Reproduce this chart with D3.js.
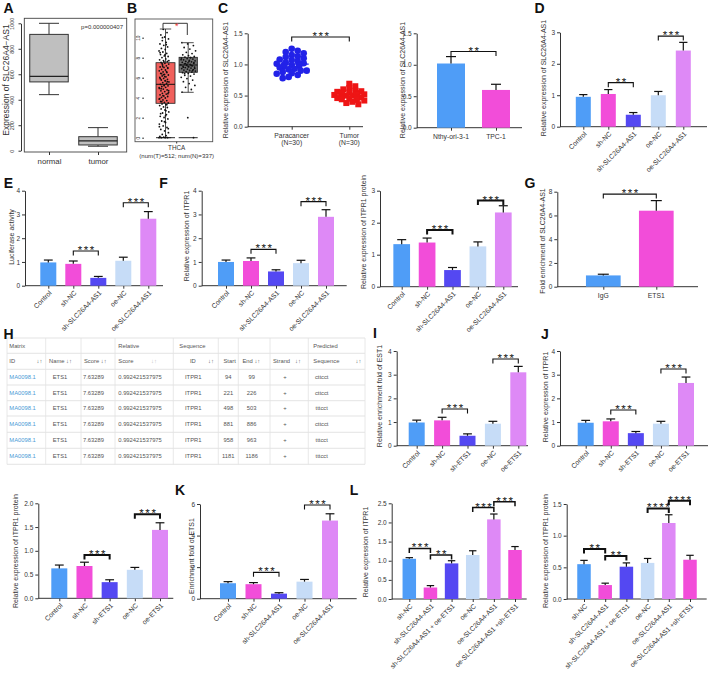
<!DOCTYPE html>
<html><head><meta charset="utf-8">
<script src="https://cdn.jsdelivr.net/npm/d3@7"></script>
<style>
body{margin:0;background:#fff}
svg{display:block}
text{font-family:"Liberation Sans",Arial,Helvetica,sans-serif}
</style>
</head><body>
<svg id="c" width="709" height="676"></svg>
<script>
// ---------------- DATA ----------------
// Panel A (boxplot)
const A_cats = ["normal", "tumor"];
const A_min = [440, 35];
const A_q1 = [540, 45];
const A_med = [584, 77];
const A_q3 = [913, 110];
const A_max = [1000, 181];
const A_ticks = [0, 200, 400, 600, 800, 1000];
const A_p = "p=0.000000407";

// Panel B (GEPIA boxplot)
const B_cats = ["T", "N"];
const B_min = [0, 4.54];
const B_q1 = [3.44, 6.54];
const B_med = [5.34, 7.27];
const B_q3 = [7.5, 8.04];
const B_max = [10.87, 9.5];
const B_ticks = [0, 2, 4, 6, 8, 10];
const B_tumorPts = [0,0,0,0,0.05,0.12,0.2,0.33,0.5,0.68,0.83,1.02,1.18,1.36,1.52,1.67,1.88,2.02,2.14,2.31,2.47,2.58,2.77,2.88,3.02,3.08,3.21,3.3,3.38,3.47,3.53,3.62,3.71,3.78,3.86,3.97,4.03,4.12,4.18,4.29,4.36,4.44,4.53,4.61,4.69,4.78,4.86,4.93,5.04,5.12,5.19,5.28,5.34,5.43,5.51,5.58,5.69,5.77,5.84,5.93,6.02,6.09,6.18,6.27,6.33,6.44,6.52,6.58,6.69,6.77,6.83,6.94,7.02,7.08,7.19,7.27,7.36,7.44,7.53,7.62,7.71,7.79,7.88,8.01,8.12,8.18,8.31,8.43,8.57,8.68,8.82,8.93,9.08,9.24,9.38,9.53,9.71,9.88,10.07,10.28,10.51,10.84,1.1,2.2,3.6,4.4,5.2,5.9,6.6,7.1,7.7,8.3,4.9,5.6,6.3,3.9,2.7,7.4,0.9,1.6,2.4,3.3,4.2,5.0,5.7,6.4,7.0,7.6,8.5,9.3,10.0,4.7,6.1];
const B_normalPts = [0,2.0,4.55,4.82,5.04,5.23,5.41,5.6,5.76,5.91,6.04,6.16,6.24,6.36,6.44,6.5,6.56,6.61,6.66,6.72,6.76,6.81,6.86,6.91,6.96,7.01,7.06,7.09,7.14,7.19,7.24,7.29,7.34,7.39,7.44,7.49,7.54,7.59,7.64,7.69,7.74,7.79,7.86,7.91,7.96,8.01,8.06,8.12,8.21,8.29,8.41,8.54,8.69,8.86,9.02,9.21,9.38,9.5,7.22,7.41,6.93,7.63,7.05,6.7,7.3,7.8,8.0,6.4,7.5,7.1];

// Panel C left (scatter)
const C_cats = ["Paracancer", "Tumor"];
const C_paracancer = [1.25,1.22,1.2,1.18,1.15,1.13,1.12,1.1,1.08,1.07,1.05,1.03,1.02,1.01,1.0,1.0,0.99,0.98,0.97,0.95,0.93,0.92,0.9,0.9,0.88,0.86,0.85,0.83,0.8,0.78];
const C_tumor = [0.69,0.65,0.62,0.6,0.58,0.57,0.56,0.55,0.55,0.54,0.53,0.53,0.52,0.52,0.51,0.51,0.5,0.5,0.49,0.48,0.47,0.47,0.46,0.45,0.44,0.43,0.42,0.4,0.38,0.36];

// Bar panels categories
const cats5AS = ["Control", "sh-NC", "sh-SLC26A4-AS1", "oe-NC", "oe-SLC26A4-AS1"];
const cats5ETS = ["Control", "sh-NC", "sh-ETS1", "oe-NC", "oe-ETS1"];
const catsL = ["sh-NC", "sh-SLC26A4-AS1", "sh-SLC26A4-AS1 + oe-ETS1", "oe-NC", "oe-SLC26A4-AS1", "oe-SLC26A4-AS1 +sh-ETS1"];
const catsCells = ["Nthy-ori-3-1", "TPC-1"];
const catsG = ["IgG", "ETS1"];

// values (mean) and SD
const C2_val = [1.02, 0.6];   const C2_sd = [0.11, 0.09];
const D_val = [0.95, 1.04, 0.38, 1.0, 2.42]; const D_sd = [0.07, 0.14, 0.07, 0.12, 0.26];
const E_val = [0.98, 0.92, 0.33, 1.05, 2.82]; const E_sd = [0.1, 0.12, 0.06, 0.15, 0.3];
const F1_val = [1.0, 1.04, 0.6, 0.95, 2.9]; const F1_sd = [0.08, 0.13, 0.07, 0.12, 0.3];
const F2_val = [1.33, 1.38, 0.52, 1.26, 2.32]; const F2_sd = [0.14, 0.14, 0.08, 0.14, 0.21];
const G_val = [0.95, 6.4]; const G_sd = [0.1, 0.85];
const I_val = [0.98, 1.07, 0.42, 0.93, 3.1]; const I_sd = [0.1, 0.13, 0.08, 0.1, 0.25];
const J_val = [0.97, 1.03, 0.53, 0.93, 2.65]; const J_sd = [0.1, 0.1, 0.07, 0.1, 0.25];
const J2_val = [0.63, 0.68, 0.34, 0.6, 1.44]; const J2_sd = [0.07, 0.08, 0.05, 0.05, 0.15];
const K_val = [0.98, 0.92, 0.32, 1.08, 4.95]; const K_sd = [0.1, 0.1, 0.06, 0.14, 0.43];
const L1_val = [1.05, 0.3, 0.93, 1.15, 2.08, 1.28]; const L1_sd = [0.03, 0.05, 0.07, 0.11, 0.14, 0.09];
const L2_val = [0.55, 0.22, 0.51, 0.57, 1.2, 0.62]; const L2_sd = [0.06, 0.03, 0.06, 0.07, 0.13, 0.07];

// significance brackets: [from index, to index, level, stars]
const C1_br = [[0, 1, 1.44, "***"]];
const C2_br = [[0, 1, 1.21, "**"]];
const D_br = [[1, 2, 1.40, "**"], [3, 4, 2.88, "***"]];
const E_br = [[1, 2, 1.46, "***"], [3, 4, 3.49, "***"]];
const F1_br = [[1, 2, 1.53, "***"], [3, 4, 3.54, "***"]];
const F2_br = [[1, 2, 1.77, "***"], [3, 4, 2.69, "***"]];
const G_br = [[0, 1, 7.8, "***"]];
const I_br = [[1, 2, 1.55, "***"], [3, 4, 3.66, "***"]];
const J_br = [[1, 2, 1.51, "***"], [3, 4, 3.24, "***"]];
const J2_br = [[1, 2, 0.91, "***"], [3, 4, 1.77, "***"]];
const K_br = [[1, 2, 1.67, "***"], [3, 4, 5.94, "***"]];
const L1_br = [[0, 1, 1.32, "***"], [1, 2, 1.15, "**"], [3, 4, 2.39, "***"], [4, 5, 2.54, "***"]];
const L2_br = [[0, 1, 0.79, "**"], [1, 2, 0.68, "**"], [3, 4, 1.43, "****"], [4, 5, 1.55, "****"]];

// Table H
const H_matrix = ["MA0098.1","MA0098.1","MA0098.1","MA0098.1","MA0098.1","MA0098.1"];
const H_name = ["ETS1","ETS1","ETS1","ETS1","ETS1","ETS1"];
const H_score = ["7.63289","7.63289","7.63289","7.63289","7.63289","7.63289"];
const H_rel = ["0.992421537975","0.992421537975","0.992421537975","0.992421537975","0.992421537975","0.992421537975"];
const H_seqId = ["ITPR1","ITPR1","ITPR1","ITPR1","ITPR1","ITPR1"];
const H_start = [94, 221, 498, 881, 958, 1181];
const H_end = [99, 226, 503, 886, 963, 1186];
const H_strand = ["+","+","+","+","+","+"];
const H_seq = ["cttcct","cttcct","tttcct","cttcct","tttcct","tttcct"];

// ---------------- STYLE ----------------
const BLUE = "#4f9df7", MAG = "#f24dd9", IND = "#5448f2", LB = "#c6dcf7", VIO = "#de89f6";
const col5 = [BLUE, MAG, IND, LB, VIO];
const colL = [BLUE, MAG, IND, LB, VIO, MAG];
const col2 = [BLUE, MAG];
const AX = "#333";

const svg = d3.select("#c");

function styleAxis(g, fs) {
  g.selectAll(".domain").attr("stroke", AX).attr("stroke-width", 1);
  g.selectAll(".tick line").attr("stroke", AX).attr("stroke-width", 1);
  g.selectAll(".tick text").attr("fill", "#333").style("font-size", (fs || 6.5) + "px")
    .style("font-family", '"Liberation Sans",Arial,sans-serif');
}
function yTitle(x, y, t, fs) {
  svg.append("text").attr("transform", `translate(${x},${y}) rotate(-90)`)
    .attr("text-anchor", "middle").attr("dominant-baseline", "central")
    .style("font-size", (fs || 7) + "px").attr("fill", "#333").text(t);
}
function letter(x, y, t) {
  svg.append("text").attr("x", x).attr("y", y).text(t)
    .style("font-size", "14px").style("font-weight", "bold").attr("fill", "#111")
    .attr("text-anchor", "middle");
}
function bracket(g, xa, xb, yy, stars, thick, tick) {
  const t = tick == null ? 4.5 : tick;
  g.append("path").attr("d", `M${xa},${yy + t}V${yy}H${xb}V${yy + t}`)
    .attr("fill", "none").attr("stroke", "#111").attr("stroke-width", thick || 1.1);
  g.append("text").attr("x", (xa + xb) / 2 + 1).attr("y", yy + 3).attr("text-anchor", "middle")
    .style("font-size", "11.5px").style("letter-spacing", "1.6px").attr("fill", "#111").text(stars);
}

function barPanel(p) {
  const g = svg.append("g");
  const y = d3.scaleLinear().domain([0, p.yMax]).range([p.y0, p.yTopPx]);
  const x = d3.scalePoint().domain(p.cats).range([p.x1, p.x2]);
  const ya = g.append("g").attr("transform", `translate(${p.axisX},0)`)
    .call(d3.axisLeft(y).tickValues(p.ticks).tickFormat(d3.format(p.fmt || "d")).tickSize(3).tickSizeOuter(0).tickPadding(2));
  styleAxis(ya);
  g.append("line").attr("x1", p.axisX).attr("x2", p.xEnd).attr("y1", p.y0).attr("y2", p.y0)
    .attr("stroke", AX).attr("stroke-width", 1);
  const xa = g.append("g").attr("transform", `translate(0,${p.y0})`)
    .call(d3.axisBottom(x).tickSize(3).tickFormat(""));
  xa.select(".domain").remove();
  styleAxis(xa);
  g.selectAll("rect.bar").data(p.vals).join("rect").attr("class", "bar")
    .attr("x", (d, i) => x(p.cats[i]) - p.bw / 2).attr("y", d => y(d))
    .attr("width", p.bw).attr("height", d => p.y0 - y(d))
    .attr("fill", (d, i) => p.colors[i]);
  const cw = p.cap || Math.min(p.bw * 0.55, 9);
  p.vals.forEach((v, i) => {
    const cx = x(p.cats[i]), top = y(v + p.sd[i]);
    g.append("line").attr("x1", cx).attr("x2", cx).attr("y1", y(v)).attr("y2", top)
      .attr("stroke", "#111").attr("stroke-width", 1.2);
    g.append("line").attr("x1", cx - cw / 2).attr("x2", cx + cw / 2).attr("y1", top).attr("y2", top)
      .attr("stroke", "#111").attr("stroke-width", 1.2);
  });
  p.cats.forEach(c => {
    if (p.rot === false) {
      g.append("text").attr("x", x(c)).attr("y", p.y0 + 11).attr("text-anchor", "middle")
        .style("font-size", "6.8px").attr("fill", "#333").text(c);
    } else {
      g.append("text").attr("transform", `translate(${x(c) + 2},${p.y0 + 6}) rotate(-45)`)
        .attr("text-anchor", "end").attr("dy", "0.35em")
        .style("font-size", "6.8px").attr("fill", "#333").text(c);
    }
  });
  p.br.forEach(b => bracket(g, x(p.cats[b[0]]), x(p.cats[b[1]]), y(b[2]), b[3], p.thick));
  yTitle(p.tx, p.ty, p.title);
}

// ---------------- PANEL A ----------------
(function () {
  const g = svg.append("g");
  const y = d3.scaleLinear().domain([0, 1000]).range([150.7, 23.3]);
  const x = d3.scalePoint().domain(A_cats).range([49, 98]);
  g.append("rect").attr("x", 24.3).attr("y", 18.3).attr("width", 102.4).attr("height", 133.7)
    .attr("fill", "none").attr("stroke", "#444").attr("stroke-width", 0.9);
  const ya = g.append("g").attr("transform", "translate(21,0)")
    .call(d3.axisLeft(y).tickValues(A_ticks).tickSize(2.5).tickSizeOuter(0).tickPadding(2).tickFormat(d3.format("d")));
  styleAxis(ya, 5.5);
  ya.selectAll(".tick text").attr("transform", "rotate(-90)").attr("text-anchor", "middle")
    .attr("x", 0).attr("y", -7).attr("dy", "0");
  const xa = g.append("g").attr("transform", "translate(0,152)")
    .call(d3.axisBottom(x).tickSize(3).tickSizeOuter(0).tickPadding(3));
  xa.select(".domain").remove();
  styleAxis(xa, 7.8);
  const bw = 38.5;
  A_cats.forEach((c, i) => {
    const cx = x(c);
    g.append("line").attr("x1", cx).attr("x2", cx).attr("y1", y(A_q3[i])).attr("y2", y(A_max[i])).attr("stroke", "#333");
    g.append("line").attr("x1", cx).attr("x2", cx).attr("y1", y(A_q1[i])).attr("y2", y(A_min[i])).attr("stroke", "#333");
    g.append("line").attr("x1", cx - 10).attr("x2", cx + 10).attr("y1", y(A_max[i])).attr("y2", y(A_max[i])).attr("stroke", "#333");
    g.append("line").attr("x1", cx - 10).attr("x2", cx + 10).attr("y1", y(A_min[i])).attr("y2", y(A_min[i])).attr("stroke", "#333");
    g.append("rect").attr("x", cx - bw / 2).attr("y", y(A_q3[i])).attr("width", bw)
      .attr("height", y(A_q1[i]) - y(A_q3[i])).attr("fill", "#bfbfbf").attr("stroke", "#333");
    g.append("line").attr("x1", cx - bw / 2).attr("x2", cx + bw / 2).attr("y1", y(A_med[i])).attr("y2", y(A_med[i]))
      .attr("stroke", "#222").attr("stroke-width", 1.3);
  });
  g.append("text").attr("x", 123).attr("y", 29).attr("text-anchor", "end")
    .style("font-size", "6px").attr("fill", "#333").text(A_p);
  yTitle(5.5, 80, "Expression of SLC26A4\u2212AS1", 8.5);
})();

// ---------------- PANEL B ----------------
(function () {
  const g = svg.append("g");
  const y = d3.scaleLinear().domain([0, 10]).range([137.7, 37.7]);
  const x = d3.scalePoint().domain(B_cats).range([165.5, 188.2]);
  g.append("rect").attr("x", 135).attr("y", 19).attr("width", 77.7).attr("height", 122.7)
    .attr("fill", "none").attr("stroke", "#555").attr("stroke-width", 0.9);
  const ya = g.append("g").attr("transform", "translate(144,0)")
    .call(d3.axisLeft(y).tickValues(B_ticks).tickSize(1.8).tickPadding(1.5).tickFormat(d3.format("d")));
  ya.select(".domain").remove();
  styleAxis(ya, 4.8);
  ya.selectAll(".tick text").attr("transform", "rotate(-90)").attr("text-anchor", "middle")
    .attr("x", 0).attr("y", -4.5).attr("dy", "0");
  const fills = ["#f0605c", "#707070"];
  const widths = [19, 18.3];
  B_cats.forEach((c, i) => {
    const cx = x(c), bw = widths[i];
    g.append("line").attr("x1", cx).attr("x2", cx).attr("y1", y(B_q3[i])).attr("y2", y(B_max[i])).attr("stroke", "#222").attr("stroke-width", 0.8);
    g.append("line").attr("x1", cx).attr("x2", cx).attr("y1", y(B_q1[i])).attr("y2", y(B_min[i])).attr("stroke", "#222").attr("stroke-width", 0.8);
    g.append("line").attr("x1", cx - bw * 0.3).attr("x2", cx + bw * 0.3).attr("y1", y(B_max[i])).attr("y2", y(B_max[i])).attr("stroke", "#222").attr("stroke-width", 0.8);
    g.append("line").attr("x1", cx - bw * 0.3).attr("x2", cx + bw * 0.3).attr("y1", y(B_min[i])).attr("y2", y(B_min[i])).attr("stroke", "#222").attr("stroke-width", 0.8);
    g.append("rect").attr("x", cx - bw / 2).attr("y", y(B_q3[i])).attr("width", bw)
      .attr("height", y(B_q1[i]) - y(B_q3[i])).attr("fill", fills[i]).attr("stroke", "#222").attr("stroke-width", 0.8);
    g.append("line").attr("x1", cx - bw / 2).attr("x2", cx + bw / 2).attr("y1", y(B_med[i])).attr("y2", y(B_med[i]))
      .attr("stroke", "#111").attr("stroke-width", 1);
  });
  B_cats.forEach((c, i) => {
    g.append("line").attr("x1", x(c) - 9.5).attr("x2", x(c) + 9.5).attr("y1", y(0)).attr("y2", y(0))
      .attr("stroke", "#111").attr("stroke-width", 0.9);
  });
  const frac = k => (k * 0.6180339887) % 1;
  g.selectAll("circle.t").data(B_tumorPts).join("circle").attr("class", "t")
    .attr("cx", (d, k) => x("T") - 1.5 + (frac(k) - 0.5) * 10).attr("cy", d => y(d)).attr("r", 0.9).attr("fill", "#111");
  g.selectAll("circle.n").data(B_normalPts).join("circle").attr("class", "n")
    .attr("cx", (d, k) => x("N") + (frac(k + 3) - 0.5) * 15).attr("cy", d => y(d)).attr("r", 0.9).attr("fill", "#111");
  g.append("path").attr("d", "M163,28.3V23.3H187.3V35").attr("fill", "none").attr("stroke", "#222").attr("stroke-width", 0.9);
  g.append("text").attr("x", 176.7).attr("y", 28.5).attr("text-anchor", "middle").style("font-size", "9px").attr("fill", "#e33").text("*");
  g.append("line").attr("x1", 176.7).attr("x2", 176.7).attr("y1", 141.7).attr("y2", 143.5).attr("stroke", "#333");
  g.append("text").attr("x", 176.7).attr("y", 150).attr("text-anchor", "middle").style("font-size", "6.3px").attr("fill", "#333").text("THCA");
  g.append("text").attr("x", 176.7).attr("y", 157.5).attr("text-anchor", "middle").style("font-size", "6.1px").attr("fill", "#333").text("(num(T)=512; num(N)=337)");
})();

// ---------------- PANEL C left (scatter) ----------------
(function () {
  const g = svg.append("g");
  const y = d3.scaleLinear().domain([0, 1.5]).range([126.7, 33.3]);
  const x = d3.scalePoint().domain(C_cats).range([291.7, 349.3]);
  const ya = g.append("g").attr("transform", "translate(247.7,0)")
    .call(d3.axisLeft(y).tickValues([0, 0.5, 1, 1.5]).tickFormat(d3.format(".1f")).tickSize(3).tickSizeOuter(0).tickPadding(2));
  styleAxis(ya);
  g.append("line").attr("x1", 247.7).attr("x2", 363).attr("y1", 126.7).attr("y2", 126.7).attr("stroke", AX);
  const xa = g.append("g").attr("transform", "translate(0,126.7)").call(d3.axisBottom(x).tickSize(3).tickFormat(""));
  xa.select(".domain").remove(); styleAxis(xa);
  const subs = ["(N=30)", "(N=30)"];
  C_cats.forEach((c, i) => {
    g.append("text").attr("x", x(c)).attr("y", 137.5).attr("text-anchor", "middle").style("font-size", "6.8px").attr("fill", "#333").text(c);
    g.append("text").attr("x", x(c)).attr("y", 145).attr("text-anchor", "middle").style("font-size", "6.8px").attr("fill", "#333").text(subs[i]);
  });
  // compact swarm layout (points may overlap a little)
  function swarm(vals, cx, minD, step, maxOff) {
    const placed = [];
    return vals.map(v => {
      const cy = y(v);
      let off = 0, best = null;
      for (let k = 0; k < 30; k++) {
        const cand = k === 0 ? 0 : (k % 2 ? 1 : -1) * Math.ceil(k / 2) * step;
        if (Math.abs(cand) > maxOff) break;
        if (placed.every(p => Math.hypot(p[0] - (cx + cand), p[1] - cy) >= minD)) { best = cand; break; }
      }
      off = best == null ? ((placed.length % 2 ? 1 : -1) * maxOff * 0.5) : best;
      const pt = [cx + off, cy];
      placed.push(pt);
      return pt;
    });
  }
  const pA = swarm(C_paracancer, x("Paracancer"), 4.6, 3.0, 15);
  const pB = swarm(C_tumor, x("Tumor"), 4.2, 3.0, 15);
  g.selectAll("circle.pc").data(pA).join("circle").attr("cx", d => d[0]).attr("cy", d => d[1]).attr("r", 3.3).attr("fill", "#2222e8");
  g.selectAll("rect.tu").data(pB).join("rect").attr("x", d => d[0] - 3).attr("y", d => d[1] - 3).attr("width", 6).attr("height", 6).attr("fill", "#ee1515");
  const mA = d3.mean(C_paracancer), mB = d3.mean(C_tumor);
  g.append("line").attr("x1", x("Paracancer") - 17).attr("x2", x("Paracancer") + 17).attr("y1", y(mA)).attr("y2", y(mA)).attr("stroke", "#2222e8").attr("stroke-width", 1.2);
  g.append("line").attr("x1", x("Tumor") - 17).attr("x2", x("Tumor") + 17).attr("y1", y(mB)).attr("y2", y(mB)).attr("stroke", "#ee1515").attr("stroke-width", 1.2);
  C1_br.forEach(b => bracket(g, x(C_cats[b[0]]), x(C_cats[b[1]]), y(b[2]), b[3]));
  yTitle(225, 80, "Relative expression of SLC26A4-AS1");
})();

// ---------------- BAR PANELS ----------------
barPanel({cats: catsCells, vals: C2_val, sd: C2_sd, colors: col2, br: C2_br,
  axisX: 416.7, y0: 127.7, yTopPx: 33.3, yMax: 1.5, ticks: [0, 0.5, 1, 1.5], fmt: ".1f",
  xEnd: 522, x1: 451, x2: 496, bw: 28, cap: 10, rot: false, title: "Relative expression of SLC26A4-AS1", tx: 402.7, ty: 80});
barPanel({cats: cats5AS, vals: D_val, sd: D_sd, colors: col5, br: D_br,
  axisX: 560, y0: 126.7, yTopPx: 32.3, yMax: 3, ticks: [0, 1, 2, 3],
  xEnd: 707, x1: 583.3, x2: 683.3, bw: 15, title: "Relative expression of SLC26A4-AS1", tx: 543, ty: 78});
barPanel({cats: cats5AS, vals: E_val, sd: E_sd, colors: col5, br: E_br,
  axisX: 25, y0: 285.7, yTopPx: 190.7, yMax: 4, ticks: [0, 1, 2, 3, 4],
  xEnd: 163, x1: 48.3, x2: 148.3, bw: 16, title: "Luciferase activity", tx: 11.7, ty: 237});
barPanel({cats: cats5AS, vals: F1_val, sd: F1_sd, colors: col5, br: F1_br,
  axisX: 201.7, y0: 285.7, yTopPx: 190.7, yMax: 4, ticks: [0, 1, 2, 3, 4],
  xEnd: 346.7, x1: 226, x2: 326, bw: 16, title: "Relative expression of ITPR1", tx: 186.7, ty: 236});
barPanel({cats: cats5AS, vals: F2_val, sd: F2_sd, colors: col5, br: F2_br, thick: 2,
  axisX: 380, y0: 286.7, yTopPx: 190.7, yMax: 3, ticks: [0, 1, 2, 3],
  xEnd: 518, x1: 401.7, x2: 503.3, bw: 16.7, title: "Relative expression of ITPR1 protein", tx: 363.3, ty: 232});
barPanel({cats: catsG, vals: G_val, sd: G_sd, colors: col2, br: G_br,
  axisX: 557.3, y0: 286.7, yTopPx: 191.7, yMax: 8, ticks: [0, 2, 4, 6, 8],
  xEnd: 698, x1: 603.3, x2: 656.3, bw: 34.7, cap: 11, rot: false, title: "Fold enrichment of SLC26A4-AS1", tx: 542.7, ty: 241});
barPanel({cats: cats5ETS, vals: I_val, sd: I_sd, colors: col5, br: I_br,
  axisX: 396.7, y0: 445.7, yTopPx: 351, yMax: 4, ticks: [0, 1, 2, 3, 4],
  xEnd: 528, x1: 416.7, x2: 518.3, bw: 16, title: "Relative  enrichment fold of EST1", tx: 379, ty: 396});
barPanel({cats: cats5ETS, vals: J_val, sd: J_sd, colors: col5, br: J_br,
  axisX: 560, y0: 445.7, yTopPx: 351, yMax: 4, ticks: [0, 1, 2, 3, 4],
  xEnd: 708, x1: 585.7, x2: 686, bw: 16, title: "Relative expression of ITPR1", tx: 545, ty: 397});
barPanel({cats: cats5ETS, vals: J2_val, sd: J2_sd, colors: col5, br: J2_br, thick: 2,
  axisX: 38.3, y0: 598.3, yTopPx: 503.3, yMax: 2, ticks: [0, 0.5, 1, 1.5, 2], fmt: ".1f",
  xEnd: 173.3, x1: 59.3, x2: 160, bw: 16, title: "Relative expression of ITPR1 protein", tx: 15, ty: 551});
barPanel({cats: cats5AS, vals: K_val, sd: K_sd, colors: col5, br: K_br,
  axisX: 200, y0: 598.7, yTopPx: 504, yMax: 6, ticks: [0, 2, 4, 6],
  xEnd: 356.7, x1: 228, x2: 330, bw: 16, title: "Enrichment fold of ETS1", tx: 191.7, ty: 556});
barPanel({cats: catsL, vals: L1_val, sd: L1_sd, colors: colL, br: L1_br, thick: 1.5,
  axisX: 391.7, y0: 599, yTopPx: 503.3, yMax: 2.5, ticks: [0, 0.5, 1, 1.5, 2, 2.5], fmt: ".1f",
  xEnd: 526.7, x1: 409.3, x2: 515, bw: 13.5, title: "Relative expression of ITPR1", tx: 365, ty: 552});
barPanel({cats: catsL, vals: L2_val, sd: L2_sd, colors: colL, br: L2_br, thick: 2,
  axisX: 566.7, y0: 599, yTopPx: 504, yMax: 1.5, ticks: [0, 0.5, 1, 1.5], fmt: ".1f",
  xEnd: 706.7, x1: 584, x2: 690, bw: 13.5, title: "Relative expression of ITPR1 protein", tx: 545, ty: 551});

// ---------------- TABLE H ----------------
(function () {
  const g = svg.append("g");
  const cx = [7, 45.7, 81, 115, 173.3, 218.3, 238.3, 270, 308.3, 365];
  const ry = [338, 353.3, 369.3, 385, 400.7, 416, 432.3, 448.3, 464.3];
  const fs = "5.8px", tc = "#555";
  ry.forEach(yy => g.append("line").attr("x1", cx[0]).attr("x2", cx[cx.length - 1]).attr("y1", yy).attr("y2", yy).attr("stroke", "#dcdcdc").attr("stroke-width", 0.8));
  cx.forEach(xx => g.append("line").attr("x1", xx).attr("x2", xx).attr("y1", ry[0]).attr("y2", ry[ry.length - 1]).attr("stroke", "#e2e2e2").attr("stroke-width", 0.8));
  const mid = k => (ry[k] + ry[k + 1]) / 2;
  function t(x, y, s, anchor, color) {
    g.append("text").attr("x", x).attr("y", y).attr("dy", "0.35em").attr("text-anchor", anchor || "start")
      .style("font-size", fs).attr("fill", color || tc).text(s);
  }
  t(9.3, mid(0), "Matrix"); t(118.3, mid(0), "Relative"); t(179.3, mid(0), "Sequence"); t(313.3, mid(0), "Predicted");
  const h = mid(1);
  t(9.3, h, "ID"); t(39.5, h, "\u2193\u2191", "middle");
  t(49, h, "Name \u2193\u2191");
  t(84, h, "Score \u2193\u2191");
  t(118.3, h, "Score"); t(154, h, "\u2193\u2191", "middle", "#bbb");
  t(190, h, "ID"); t(211, h, "\u2193\u2191", "middle");
  t(223.5, h, "Start");
  t(242.5, h, "End \u2193\u2191");
  t(273, h, "Strand"); t(298, h, "\u2193\u2191", "middle");
  t(313.3, h, "Sequence"); t(358.5, h, "\u2193\u2191", "middle");
  H_matrix.forEach((m, i) => {
    const yy = mid(i + 2);
    t(9.3, yy, m, "start", "#4a9ad6");
    t(60, yy, H_name[i], "middle");
    t(93.5, yy, H_score[i], "middle");
    t(118.3, yy, H_rel[i]);
    t(185, yy, H_seqId[i]);
    t(228.3, yy, H_start[i], "middle");
    t(251.7, yy, H_end[i], "middle");
    t(285, yy, H_strand[i], "middle");
    t(321.7, yy, H_seq[i], "middle");
  });
})();

// ---------------- LETTERS ----------------
[["A", 8.5, 13], ["B", 132, 13], ["C", 223, 13], ["D", 539.5, 13], ["E", 8.5, 188], ["F", 163.5, 188],
 ["G", 530, 188], ["H", 8.5, 338.5], ["I", 375, 338], ["J", 545, 338.5], ["K", 180, 495], ["L", 354, 495]]
  .forEach(d => letter(d[1], d[2], d[0]));
</script>
</body></html>
